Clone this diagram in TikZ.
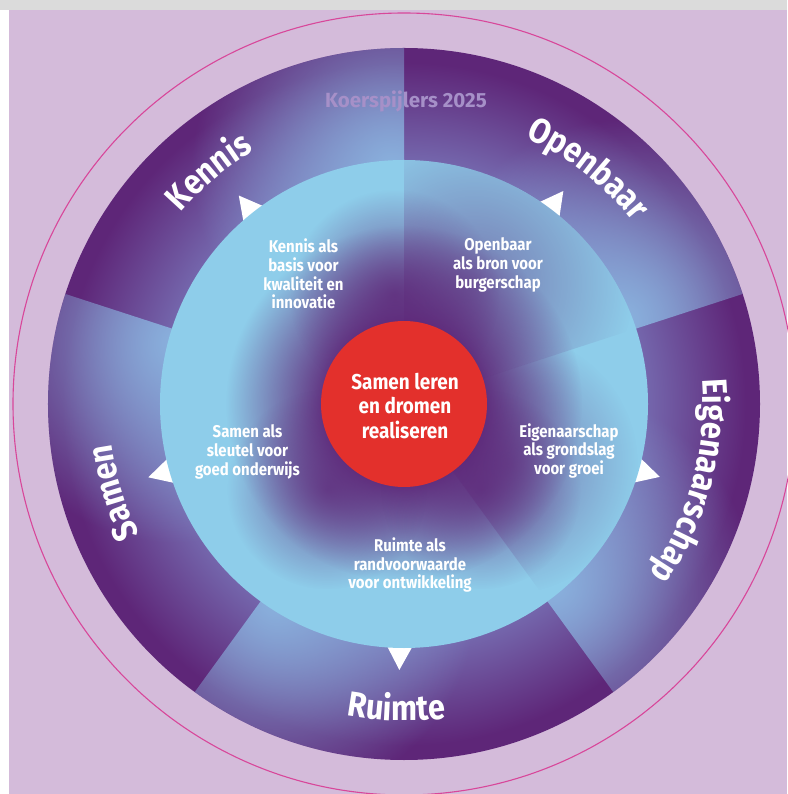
\documentclass[tikz,border=0pt]{standalone}
\usepackage{fontspec}
\setmainfont{Fira Sans}
\newfontfamily\ff{Fira Sans}[FakeStretch=0.88]
\newfontfamily\fn{Fira Sans}
\usetikzlibrary{decorations.text,fadings}
\definecolor{lilac}{HTML}{D4BBDA}
\definecolor{pinkc}{HTML}{D8479A}
\definecolor{dpurple}{HTML}{5E2678}
\definecolor{lblue}{HTML}{8ECDEA}
\definecolor{olight}{HTML}{8AB2DE}
\definecolor{omid}{HTML}{7466AC}
\definecolor{ired}{HTML}{E3302C}
\definecolor{ttl}{HTML}{A690C8}
\pgfdeclareradialshading{ringO}{\pgfpoint{0bp}{0bp}}{color(0bp)=(omid); color(17.1bp)=(omid); color(24bp)=(dpurple); color(50bp)=(dpurple)}
\pgfdeclareradialshading{fadeLin}{\pgfpoint{0bp}{0bp}}{color(0bp)=(transparent!0); color(25bp)=(transparent!100); color(50bp)=(transparent!100)}
\pgfdeclarefading{softfade}{\pgfuseshading{fadeLin}}
\pgfdeclareradialshading{fadePlat}{\pgfpoint{0bp}{0bp}}{color(0bp)=(transparent!0); color(10bp)=(transparent!0); color(25bp)=(transparent!100); color(50bp)=(transparent!100)}
\pgfdeclarefading{platfade}{\pgfuseshading{fadePlat}}
\tikzset{
  innertext/.style={align=center, text=white, font=\ff\bfseries\fontsize{17}{18.8}\selectfont},
  centertext/.style={align=center, text=white, font=\ff\bfseries\fontsize{21.5}{24.5}\selectfont},
  arrowtri/.style={fill=white},
  lbl/.style={decorate, decoration={text along path, text align=center, text color=white,
    text={|\ff\bfseries\fontsize{35}{35}\selectfont|#1}}},
}
\begin{document}
\begin{tikzpicture}[x=1pt,y=1pt]
\useasboundingbox (-404,-390) rectangle (383,404);
\fill[white] (-404,-390) rectangle (383,404);
\fill[black!14] (-404,394) rectangle (383,404);
\fill[lilac] (-395,-390) rectangle (383,394);
\draw[pinkc, line width=1.1] (0,0) circle (391);
% outer ring
\shade[shading=ringO] (0,0) circle (356);
\foreach \s in {18,90,162,234,306}{
  \begin{scope}
    \clip (0,0) -- (\s:356) arc[start angle=\s, end angle=\s+72, radius=356] -- cycle;
    \fill[olight, path fading=softfade] ({\s+3}:235) circle (200);
  \end{scope}
}
% arrow triangles
\foreach \a/\n in {128.4/tk,53.2/to,-15.9/te,269/tr,196/ts}{
  \fill[arrowtri] (\a:266) coordinate (\n) -- ({\a+3.1}:242) -- ({\a-3.1}:242) -- cycle;
}
% inner disc
\fill[lblue] (0,0) circle (244);
\begin{scope}
  \clip (0,0) circle (244);
  \fill[dpurple, path fading=platfade] (0,0) circle (178);
  \fill[dpurple, path fading=softfade, fill opacity=0.75] (95:110) circle (105);
  \fill[dpurple, path fading=softfade, fill opacity=0.7] (228:115) circle (100);
  \fill[dpurple, path fading=softfade, fill opacity=0.7] (312:115) circle (100);
\end{scope}
\begin{scope}
  \clip (0,0) -- (18:244) arc[start angle=18, end angle=90, radius=244] -- cycle;
  \fill[dpurple, path fading=softfade, fill opacity=0.5] (60:140) circle (160);
\end{scope}
\begin{scope}
  \clip (0,0) -- (-54:244) arc[start angle=-54, end angle=18, radius=244] -- cycle;
  \fill[dpurple, path fading=softfade, fill opacity=0.5] (-30:120) circle (130);
\end{scope}
% center
\fill[ired] (0,0) circle (83);
\node[centertext] (c) at (1,-2) {Samen leren\\en dromen\\realiseren};
% inner texts
\node[innertext] (ik) at (-100.5,130) {Kennis als\\basis voor\\kwaliteit en\\innovatie};
\node[innertext] (io) at (94,139) {Openbaar\\als bron voor\\burgerschap};
\node[innertext] (is) at (-156.5,-47.7) {Samen als\\sleutel voor\\goed onderwijs};
\node[innertext] (ie) at (165,-46.8) {Eigenaarschap\\als grondslag\\voor groei};
\node[innertext] (ir) at (6,-161) {Ruimte als\\randvoorwaarde\\voor ontwikkeling};
% title
\node[text=ttl, font=\fn\bfseries\fontsize{20.5}{20.5}\selectfont] (t) at (2,303) {Koerspijlers 2025};
% outer labels
\path[lbl=Kennis] (175:294) arc[start angle=175, end angle=85, radius=294];
\path[lbl=Openbaar] (100:293) arc[start angle=100, end angle=4, radius=293];
\path[lbl=Eigenaarschap] (35:299) arc[start angle=35, end angle=-65, radius=299];
\path[lbl=Samen] (240:295) arc[start angle=240, end angle=154, radius=295];
\path[lbl=Ruimte] (233.6:317) arc[start angle=233.6, end angle=303.6, radius=317];
\end{tikzpicture}
\end{document}
